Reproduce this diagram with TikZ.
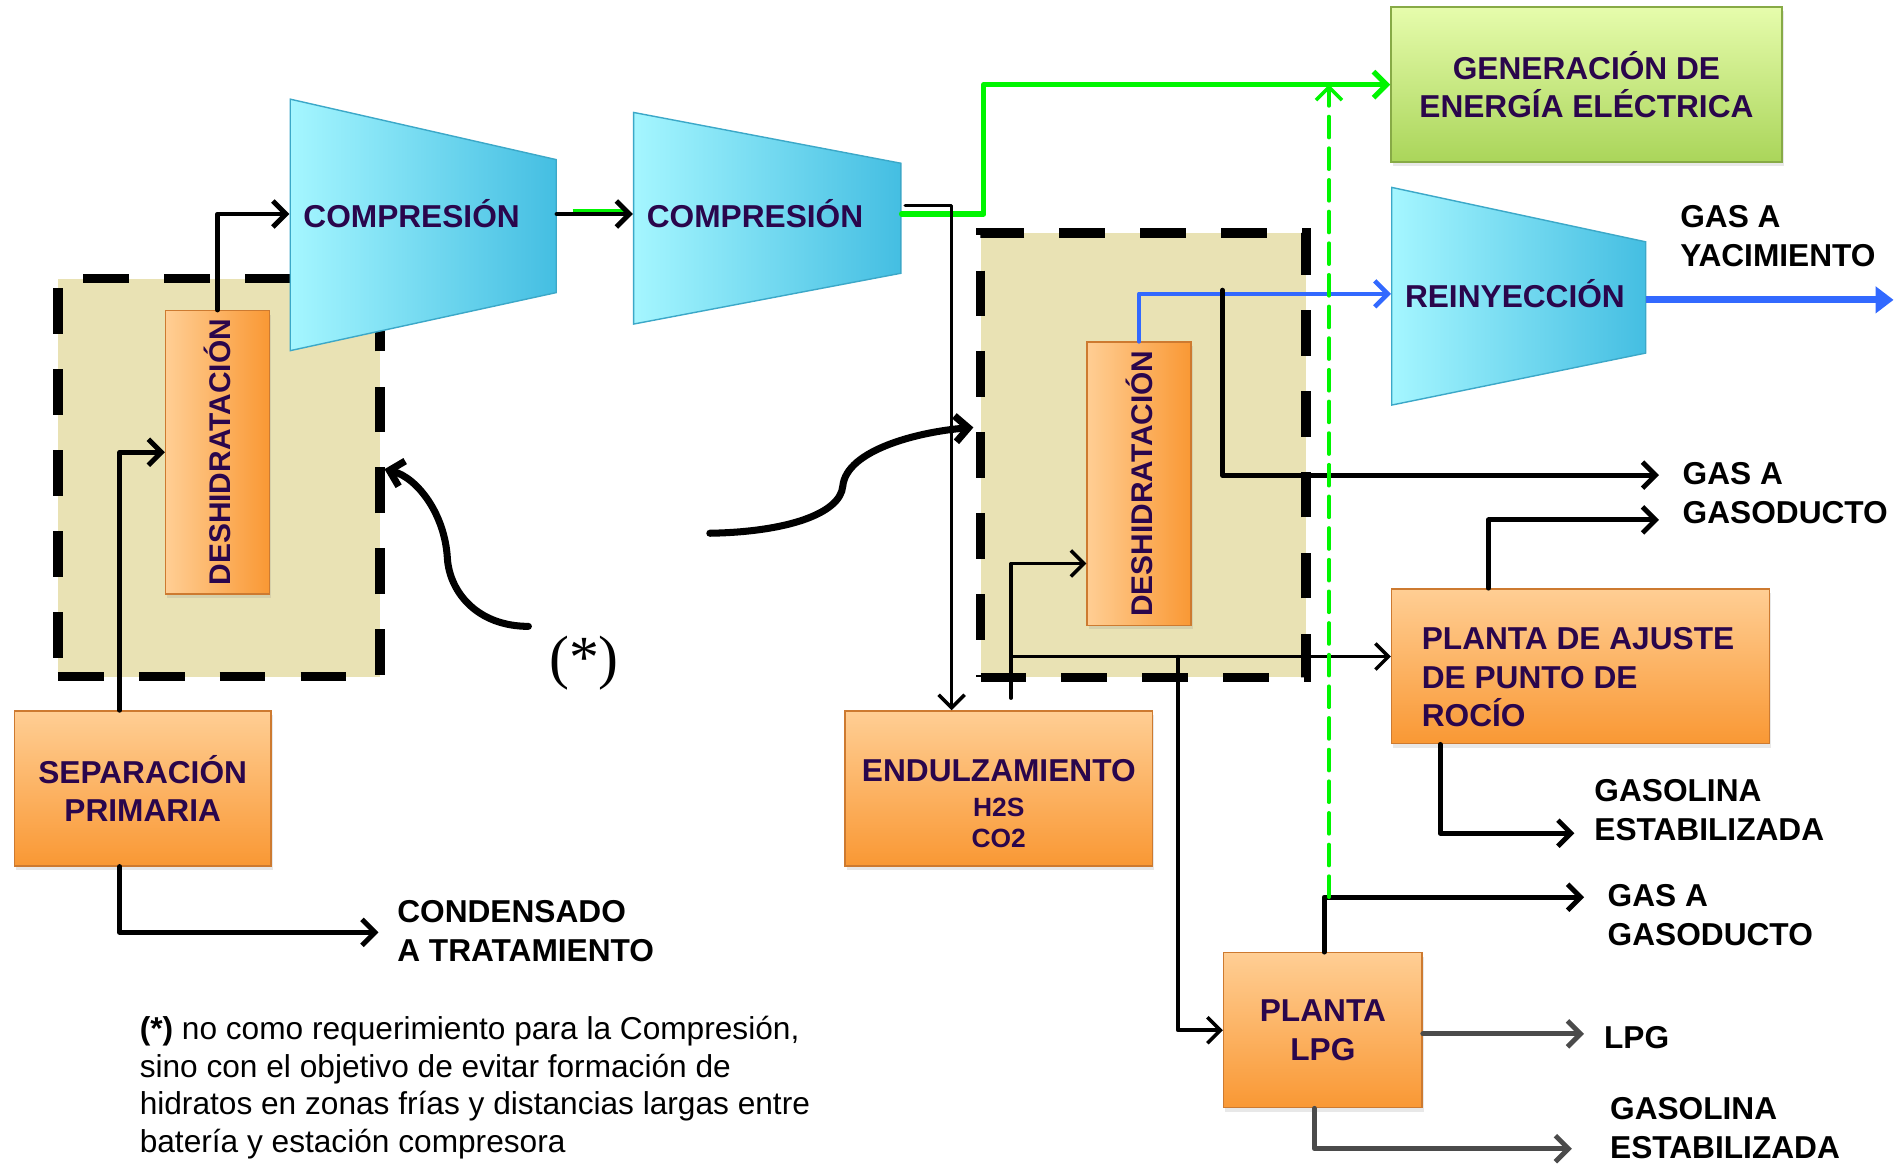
\documentclass[tikz,border=0pt]{standalone}
\usepackage{graphicx}
\usepackage{fontspec}
\setmainfont{Liberation Sans}
\newfontfamily\astfont{Liberation Serif}
\usetikzlibrary{arrows.meta,positioning,calc,shadows}
\definecolor{txtCol}{RGB}{42,6,76}
\definecolor{orgTop}{RGB}{255,206,148}
\definecolor{orgBot}{RGB}{249,152,52}
\definecolor{orgLine}{RGB}{205,122,48}
\definecolor{cyaL}{RGB}{165,246,255}
\definecolor{cyaR}{RGB}{68,190,226}
\definecolor{cyaLine}{RGB}{60,168,200}
\definecolor{grnTop}{RGB}{230,252,172}
\definecolor{grnBot}{RGB}{170,213,90}
\definecolor{grnLine}{RGB}{135,170,70}
\definecolor{sandCol}{RGB}{233,226,180}
\definecolor{lineGrn}{RGB}{0,245,0}
\definecolor{lineBlu}{RGB}{50,105,255}
\definecolor{darkGr}{RGB}{75,75,75}
\tikzset{
  box/.style={draw=orgLine,thin,top color=orgTop,bottom color=orgBot,align=center,
              font=\bfseries\fontsize{9}{11}\selectfont,text=txtCol,inner sep=0pt,
              minimum height=1.548cm,drop shadow={opacity=0.18,shadow xshift=0.5pt,shadow yshift=-1.2pt}},
  deshbox/.style={box,left color=orgTop,right color=orgBot,minimum width=1.04cm,minimum height=2.83cm,
              font=\bfseries\fontsize{8.5}{10}\selectfont},
  genbox/.style={box,draw=grnLine,top color=grnTop,bottom color=grnBot},
  comp/.style={font=\bfseries\fontsize{9}{11}\selectfont,text=txtCol,inner ysep=0pt,
              inner xsep=0.133cm,align=flush left},
  compshape/.style={draw=cyaLine,thin,left color=cyaL,right color=cyaR},
  zone/.style={draw=black,fill=sandCol,line width=2.7pt,dash pattern=on 13pt off 10pt},
  outlab/.style={font=\bfseries\fontsize{9}{11}\selectfont,align=left,anchor=west,inner sep=0pt},
  flow/.style={-{Straight Barb[length=1.3mm,width=2.6mm]},line width=1.4pt,line cap=round,line join=round},
  tflow/.style={flow,line width=1pt},
  gflow/.style={flow,draw=lineGrn,line width=1.5pt},
  gdash/.style={flow,draw=lineGrn,line width=1pt,dash pattern=on 6pt off 3pt},
  bflow/.style={flow,draw=lineBlu,line width=1.3pt},
  bout/.style={-{Triangle[length=1.8mm,width=2.6mm]},draw=lineBlu,line width=2pt},
  grflow/.style={flow,draw=darkGr},
  curv/.style={flow,line width=2pt},
}
\begin{document}
\begin{tikzpicture}[x=0.012092cm,y=-0.012092cm]
  \useasboundingbox (0,0) rectangle (1568,963);
  % --- dashed dehydration zones ---
  \node[zone,minimum width=3.216cm,minimum height=3.978cm] (zone1) at (181,395) {};
  \node[zone,minimum width=3.253cm,minimum height=4.438cm] (zone2) at (945.5,376.5) {};
  % --- compressors ---
  \shadedraw[compshape] (240,82) -- (460,132) -- (460,242) -- (240,290) -- cycle;
  \node[comp,text width=2.394cm] (c1) at (350,177) {COMPRESIÓN};
  \shadedraw[compshape] (524,93) -- (745,135) -- (745,226) -- (524,268) -- cycle;
  \node[comp,text width=2.406cm] (c2) at (634.5,177) {COMPRESIÓN};
  \shadedraw[compshape] (1151,155) -- (1361,200) -- (1361,292) -- (1151,335) -- cycle;
  \node[comp,text width=2.273cm] (c3) at (1256,243) {REINYECCIÓN};
  % --- process boxes ---
  \node[box,minimum width=2.564cm] (sep) at (118,652) {SEPARACIÓN\\PRIMARIA};
  \node[deshbox] (deh1) at (180,374) {\rotatebox{90}{DESHIDRATACIÓN}};
  \node[deshbox] (deh2) at (942,400) {\rotatebox{90}{DESHIDRATACIÓN}};
  \node[box,minimum width=3.071cm] (endul) at (826,652)
      {\rule{0pt}{15pt}ENDULZAMIENTO\\[-1pt]{\fontsize{7.5}{9}\selectfont H2S}\\[-2.2pt]{\fontsize{7.5}{9}\selectfont CO2}};
  \node[box,align=flush left,text width=3.17cm,inner xsep=0.302cm] (ajuste) at (1307,551)
      {\rule{0pt}{12.5pt}PLANTA DE AJUSTE\\DE PUNTO DE\\ROCÍO};
  \node[box,minimum width=1.983cm] (lpg) at (1094,852) {PLANTA\\LPG};
  \node[genbox,minimum width=3.906cm] (gen) at (1312,70) {GENERACIÓN DE\\ENERGÍA ELÉCTRICA};
  % --- outlet labels ---
  \node[outlab] (cond) at (328,770) {CONDENSADO\\A TRATAMIENTO};
  \node[outlab] (yac) at (1389,195) {GAS A\\YACIMIENTO};
  \node[outlab] (gas1) at (1391,408) {GAS A\\GASODUCTO};
  \node[outlab] (gsl1) at (1318,670) {GASOLINA\\ESTABILIZADA};
  \node[outlab] (gas2) at (1329,757) {GAS A\\GASODUCTO};
  \node[outlab] (lpgout) at (1326,858) {LPG};
  \node[outlab] (gsl2) at (1331,933) {GASOLINA\\ESTABILIZADA};
  \node[font=\astfont\fontsize{17}{20}\selectfont,inner sep=0pt] (ast) at (483,548) {(*)};
  \node[anchor=north west,align=left,inner sep=0pt,font=\fontsize{9}{10.7}\selectfont] (note) at (115,840)
      {\textbf{(*)} no como requerimiento para la Compresión,\\sino con el objetivo de evitar formación de\\
       hidratos en zonas frías y distancias largas entre\\batería y estación compresora};
  % --- junctions and free ends ---
  \coordinate (jb) at (1011,240);
  \coordinate (j1) at (836,543);
  \coordinate (j2) at (974,543);
  \coordinate (jg) at (1099,742);
  \coordinate (yacend) at (1566,248);
  \coordinate (ast1) at (437,518);
  \coordinate (ast2) at (587,441);
  % --- left train ---
  \draw[flow] ($(sep.north)+(-19,0)$) |- (deh1.west);
  \draw[flow] (deh1.north) |- (c1.west);
  \draw[flow] ($(sep.south)+(-19,0)$) |- ($(cond.west)+(-15,1)$);
  \draw[lineGrn,line width=1.5pt] ($(c1.east)+(13,-2)$) -- ($(c2.west)+(-6,-2)$);
  \draw[flow] (c1.east) -- (c2.west);
  % --- after second compression ---
  \draw[gflow] (c2.east) -- ++(68,0) |- (gen.west);
  \draw[tflow] ($(c2.east)+(3,-7)$) -| ($(endul.north)+(-39,0)$);
  \draw[tflow] ($(endul.north)+(10,-10)$) |- ($(deh2.west)+(0,66)$);
  \draw[tflow] (j1) -- ($(ajuste.west)+(0,-8)$);
  \draw[tflow] (j2) |- (lpg.west);
  \draw[bflow] (deh2.north) |- (c3.west);
  \draw[bout] ($(c3.east)+(0,5)$) -- (yacend);
  \draw[flow] (jb) |- ($(gas1.west)+(-19,-15)$);
  \draw[flow] ($(ajuste.north)+(-76,0)$) |- ($(gas1.west)+(-19,22)$);
  \draw[flow] ($(ajuste.south)+(-116,0)$) |- ($(gsl1.west)+(-16,19)$);
  \draw[flow] ($(lpg.north)+(1,0)$) |- ($(gas2.west)+(-19,-15)$);
  \draw[grflow] ($(lpg.east)+(0,3)$) -- ($(lpgout.west)+(-16,-3)$);
  \draw[grflow] ($(lpg.south)+(-7,0)$) |- ($(gsl2.west)+(-31,17)$);
  \draw[gdash] (jg) -- (jg |- gen.west);
  % --- (*) pointers ---
  \draw[curv] (ast1) .. controls (395,518) and (372,490) .. (370,462)
      .. controls (368,425) and (345,395) .. ($(zone1.east)+(0,-7)$);
  \draw[curv] (ast2) .. controls (650,440) and (695,425) .. (697,402)
      .. controls (700,372) and (760,357) .. ($(zone2.west)+(-2,-23)$);
\end{tikzpicture}
\end{document}
